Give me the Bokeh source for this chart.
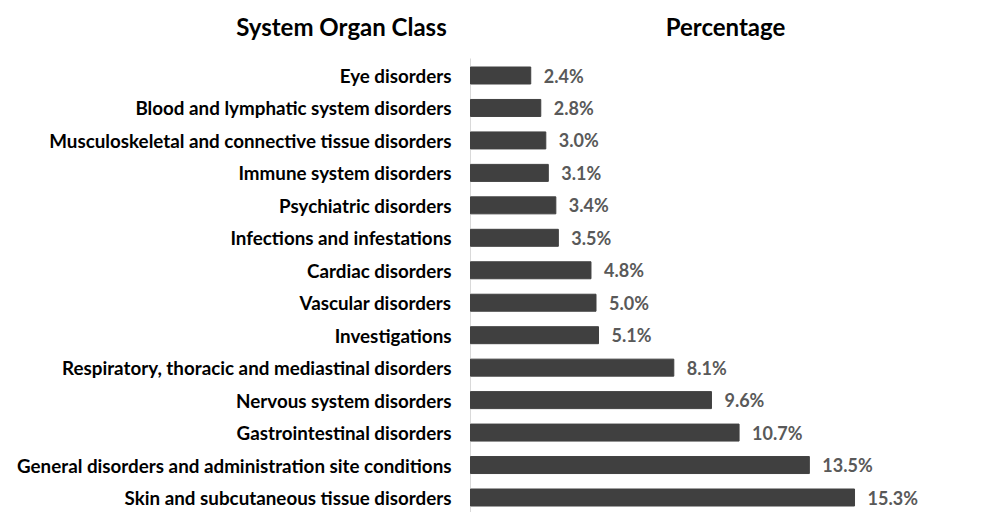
from bokeh.plotting import figure
from bokeh.models import ColumnDataSource, Range1d
from bokeh.core.properties import value
from bokeh.embed import file_html
from bokeh.resources import INLINE

categories = [
    "Eye disorders",
    "Blood and lymphatic system disorders",
    "Musculoskeletal and connective tissue disorders",
    "Immune system disorders",
    "Psychiatric disorders",
    "Infections and infestations",
    "Cardiac disorders",
    "Vascular disorders",
    "Investigations",
    "Respiratory, thoracic and mediastinal disorders",
    "Nervous system disorders",
    "Gastrointestinal disorders",
    "General disorders and administration site conditions",
    "Skin and subcutaneous tissue disorders",
]
percentages = [2.4, 2.8, 3.0, 3.1, 3.4, 3.5, 4.8, 5.0, 5.1, 8.1, 9.6, 10.7, 13.5, 15.3]
header_left = "System Organ Class"
header_right = "Percentage"

W, H = 972, 512
px_per_unit = 25.1
x0_px = 470
row_top_px, row_bot_px = 75, 497
n = len(categories)
sp = (row_bot_px - row_top_px) / (n - 1)
y_top = -row_top_px / sp
y_bot = (n - 1) + (H - row_bot_px) / sp

src = ColumnDataSource(dict(
    y=list(range(n)),
    cat=categories,
    val=percentages,
    lab=[f"{v:.1f}%" for v in percentages],
    zero=[0] * n,
))

p = figure(width=W, height=H, output_backend="svg", toolbar_location=None,
           x_range=Range1d(-x0_px / px_per_unit, (W - x0_px) / px_per_unit),
           y_range=Range1d(y_bot, y_top),
           min_border=0, outline_line_color=None)
p.xaxis.visible = False
p.yaxis.visible = False
p.grid.visible = False

# axis line
p.segment(x0=[0], x1=[0], y0=[y_top + 58 / sp], y1=[y_bot], line_color="#d9d9d9", line_width=1)

p.hbar(y="y", left="zero", right="val", height=17 / sp, source=src,
       fill_color="#404040", line_color="#404040")

p.text(x="val", y="y", text="lab", source=src, x_offset=13,
       text_font=value("Lato"), text_font_style="bold", text_font_size="18px",
       text_color="#595959", text_baseline="middle", text_align="left")

p.text(x="zero", y="y", text="cat", source=src, x_offset=-19,
       text_font=value("Lato"), text_font_style="bold", text_font_size="18.8px",
       text_color="#000000", text_baseline="middle", text_align="right")

hy = y_top + 26 / sp
p.text(x=[(341 - x0_px) / px_per_unit, (725 - x0_px) / px_per_unit], y=[hy, hy],
       text=[header_left, header_right],
       text_font=value("Lato"), text_font_style="bold", text_font_size="24px",
       text_color="#000000", text_baseline="middle", text_align="center")

open("out.html", "w").write(file_html(p, INLINE))
